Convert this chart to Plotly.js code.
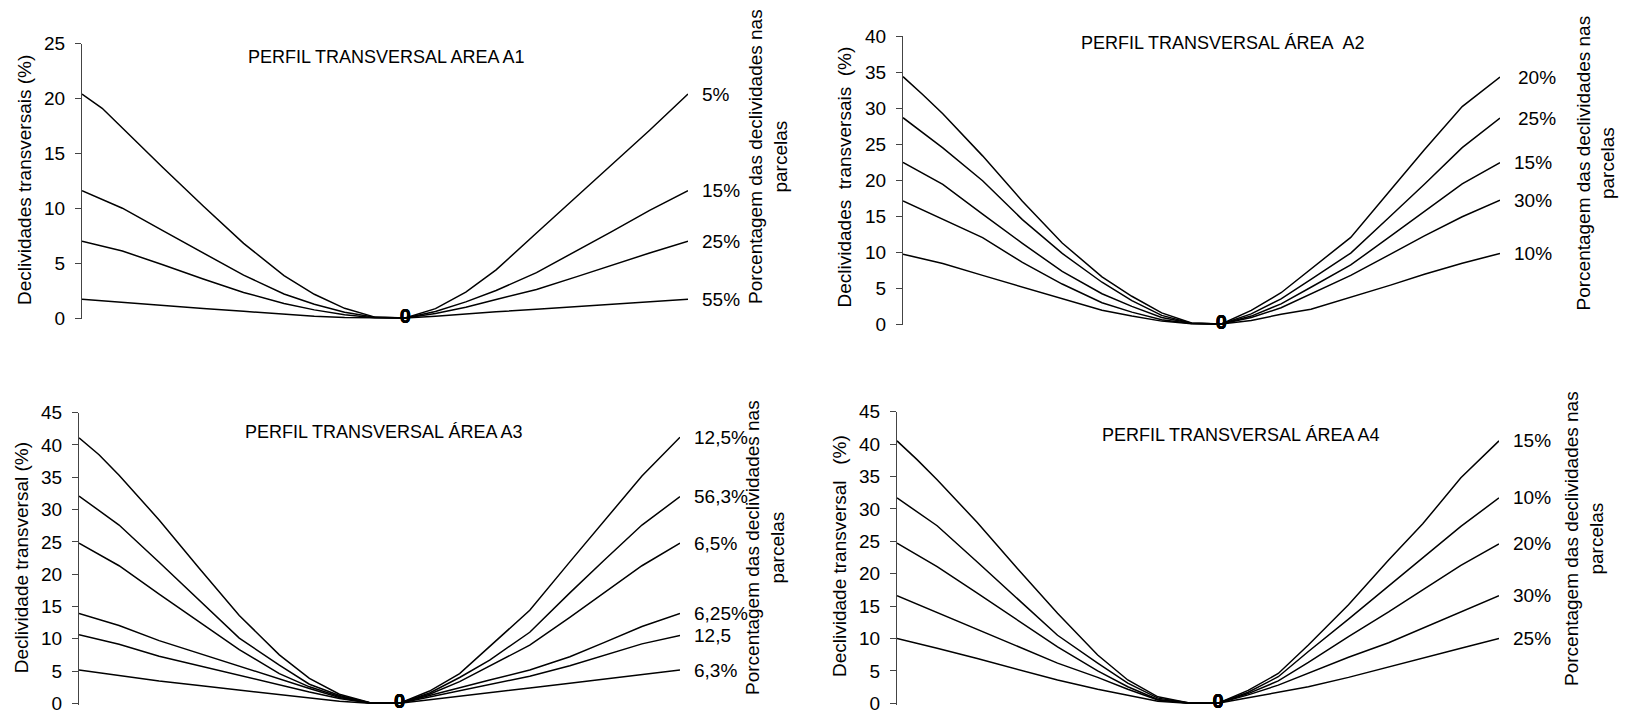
<!DOCTYPE html>
<html>
<head>
<meta charset="utf-8">
<script src="https://cdn.plot.ly/plotly-3.0.1.min.js"></script>
<style>html,body{margin:0;padding:0;background:#fff;}#chart{width:1630px;height:715px;}</style>
</head>
<body>
<div id="chart"></div>
<script>
// ---------- DATA ----------
// shared position along the transversal profile (centre of the profile = 16)
const posicao = [0, 1, 2, 4, 6, 8, 10, 11.5, 13, 14.5, 16, 17.5, 19, 20.5, 22.5, 24.5, 26.2, 28.1, 30];

// ÁREA A1
const a1Labels = ['5%', '15%', '25%', '55%'];
const a1_5  = [20.4, 19.1, 17.3, 13.7, 10.2, 6.8, 3.86, 2.16, 0.88, 0.08, 0, 0.85, 2.36, 4.38, 7.74, 11.1, 13.95, 17.1, 20.4];
const a1_15 = [11.6, 10.8, 10.0, 7.95, 5.9, 3.9, 2.19, 1.25, 0.52, 0.07, 0, 0.6, 1.47, 2.5, 4.13, 6.1, 7.85, 9.8, 11.6];
const a1_25 = [7.0, 6.55, 6.1, 4.85, 3.55, 2.33, 1.32, 0.74, 0.3, 0.03, 0, 0.42, 0.98, 1.68, 2.6, 3.77, 4.8, 5.92, 7.0];
const a1_55 = [1.7, 1.55, 1.42, 1.12, 0.86, 0.61, 0.33, 0.17, 0.05, 0.01, 0, 0.17, 0.38, 0.56, 0.8, 1.04, 1.25, 1.48, 1.7];

// ÁREA A2
const a2Labels = ['20%', '25%', '15%', '30%', '10%'];
const a2_20 = [34.35, 31.85, 29.2, 23.35, 17.05, 11.25, 6.55, 3.85, 1.55, 0.15, 0, 1.9, 4.34, 7.59, 12.03, 18.6, 24.2, 30.2, 34.3];
const a2_25 = [28.65, 26.6, 24.45, 19.9, 14.5, 9.8, 5.8, 3.25, 1.2, 0.12, 0, 1.4, 3.5, 6.2, 9.85, 15.0, 19.4, 24.5, 28.6];
const a2_15 = [22.45, 20.9, 19.4, 15.25, 11.2, 7.3, 4.2, 2.45, 0.9, 0.09, 0, 1.1, 2.8, 5.1, 8.2, 12.2, 15.6, 19.45, 22.4];
const a2_30 = [17.1, 15.85, 14.6, 12.0, 8.55, 5.55, 2.95, 1.65, 0.6, 0.06, 0, 0.9, 2.25, 4.2, 6.75, 9.7, 12.25, 14.9, 17.2];
const a2_10 = [9.7, 9.05, 8.4, 6.75, 5.1, 3.45, 1.9, 1.1, 0.4, 0.03, 0, 0.5, 1.35, 2.05, 3.7, 5.4, 6.9, 8.45, 9.8];

// ÁREA A3
const a3Labels = ['12,5%', '56,3%', '6,5%', '6,25%', '12,5', '6,3%'];
const a3_125a = [41.1, 38.5, 35.3, 28.4, 20.9, 13.6, 7.5, 3.85, 1.4, 0.12, 0, 1.9, 4.6, 8.8, 14.4, 21.9, 28.1, 35.2, 41.2];
const a3_563  = [32.1, 29.9, 27.6, 21.85, 16.0, 10.1, 5.9, 2.95, 1.2, 0.1, 0, 1.6, 4.0, 6.7, 11.0, 17.1, 22.1, 27.6, 32.0];
const a3_65   = [24.8, 23.1, 21.3, 16.9, 12.6, 8.3, 4.6, 2.55, 1.05, 0.08, 0, 1.4, 3.35, 5.8, 9.0, 13.3, 17.1, 21.3, 24.8];
const a3_625  = [13.9, 13.0, 12.05, 9.7, 7.7, 5.7, 3.8, 2.3, 0.9, 0.06, 0, 1.2, 2.5, 3.6, 5.15, 7.2, 9.4, 11.9, 13.9];
const a3_125b = [10.6, 9.9, 9.15, 7.3, 5.8, 4.3, 2.85, 1.75, 0.75, 0.05, 0, 0.95, 1.9, 2.9, 4.2, 5.8, 7.4, 9.2, 10.5];
const a3_63   = [5.15, 4.7, 4.3, 3.45, 2.75, 2.05, 1.3, 0.82, 0.3, 0.02, 0, 0.56, 1.08, 1.65, 2.37, 3.1, 3.75, 4.5, 5.15];

// ÁREA A4
const a4Labels = ['15%', '10%', '20%', '30%', '25%'];
const a4_15 = [40.5, 37.6, 34.5, 27.9, 20.8, 13.9, 7.45, 3.6, 1.0, 0.1, 0, 2.0, 4.6, 9.0, 15.2, 22.1, 27.7, 34.8, 40.5];
const a4_10 = [31.7, 29.6, 27.4, 21.8, 16.2, 10.5, 6.2, 3.1, 0.8, 0.07, 0, 1.7, 4.1, 8.0, 13.0, 18.1, 22.4, 27.3, 31.7];
const a4_20 = [24.7, 22.9, 21.1, 17.0, 12.9, 8.7, 5.0, 2.56, 0.6, 0.05, 0, 1.5, 3.45, 6.3, 10.3, 14.1, 17.5, 21.3, 24.6];
const a4_30 = [16.6, 15.3, 14.0, 11.4, 8.7, 6.2, 4.0, 2.16, 0.5, 0.04, 0, 1.3, 2.8, 4.6, 7.1, 9.35, 11.6, 14.1, 16.6];
const a4_25 = [10.0, 9.3, 8.5, 6.9, 5.2, 3.6, 2.16, 1.23, 0.3, 0.02, 0, 0.85, 1.7, 2.56, 4.0, 5.65, 7.0, 8.5, 10.0];

const titles = ['PERFIL TRANSVERSAL AREA A1', 'PERFIL TRANSVERSAL ÁREA\u00a0 A2', 'PERFIL TRANSVERSAL ÁREA A3', 'PERFIL TRANSVERSAL ÁREA A4'];
const yTitles = ['Declividades transversais (%)', 'Declividades\u00a0 transversais\u00a0 (%)', 'Declividade transversal (%)', 'Declividade transversal\u00a0\u00a0 (%)'];
const rightTitle = 'Porcentagem das declividades nas<br>parcelas';
const centreLabel = '0';

// ---------- LAYOUT / STYLE ----------
const W = 1630, H = 715;
const FONT = 'Liberation Sans, Arial, sans-serif';
const px = v => v / W, py = v => 1 - v / H;

const panels = [
  { series: [a1_5, a1_15, a1_25, a1_55], labels: a1Labels, ymax: 25, xPx: [82, 688], topPx: 43.5, zeroPx: 318,
    title: [386, 57], ytitle: [24, 180], rtitle: [768, 157], lshift: [12, 12, 12, 12] },
  { series: [a2_20, a2_25, a2_15, a2_30, a2_10], labels: a2Labels, ymax: 40, xPx: [903, 1500], topPx: 36, zeroPx: 324,
    title: [1222, 43.3], ytitle: [844, 177.5], rtitle: [1595.5, 163], lshift: [16, 16, 12, 12, 12] },
  { series: [a3_125a, a3_563, a3_65, a3_625, a3_125b, a3_63], labels: a3Labels, ymax: 45, xPx: [79, 680], topPx: 412.7, zeroPx: 703.3,
    title: [383, 431.7], ytitle: [21.7, 557.5], rtitle: [765, 548], lshift: [12, 12, 12, 12, 12, 12] },
  { series: [a4_15, a4_10, a4_20, a4_30, a4_25], labels: a4Labels, ymax: 45, xPx: [897, 1499], topPx: 411.7, zeroPx: 703.3,
    title: [1240.5, 435], ytitle: [839, 556], rtitle: [1584, 539], lshift: [11.5, 11.5, 11.5, 11.5, 11.5] }
];

const traces = [];
const layout = {
  width: W, height: H, margin: { l: 0, r: 0, t: 0, b: 0 },
  paper_bgcolor: '#fff', plot_bgcolor: 'rgba(0,0,0,0)', showlegend: false,
  font: { family: FONT, size: 19, color: '#000' },
  annotations: []
};

const centreIdx = posicao.indexOf(16);

panels.forEach((p, i) => {
  const k = i === 0 ? '' : String(i + 1);
  const ppu = (p.zeroPx - p.topPx) / p.ymax;
  const r0 = -1.2 / ppu;
  const bottomPx = p.zeroPx + 1.2;
  layout['xaxis' + k] = {
    domain: [px(p.xPx[0]), px(p.xPx[1])], range: [0, 30], visible: false,
    anchor: 'y' + k, fixedrange: true
  };
  layout['yaxis' + k] = {
    domain: [py(bottomPx), py(p.topPx)], range: [r0, p.ymax], anchor: 'x' + k,
    tickmode: 'linear', tick0: 0, dtick: 5, ticks: 'outside', ticklen: 6, tickwidth: 1, tickcolor: '#444',
    showline: true, linecolor: '#444', linewidth: 1, showgrid: false, zeroline: false,
    tickfont: { family: FONT, size: 19, color: '#000' }, ticklabelstandoff: 6, fixedrange: true
  };
  p.series.forEach((s, j) => {
    const txt = posicao.map((_, n) => n === centreIdx ? centreLabel : '');
    traces.push({
      x: posicao, y: s, xaxis: 'x' + k, yaxis: 'y' + k, type: 'scatter', mode: 'lines+text',
      line: { color: '#000', width: 1.5 }, text: txt, textposition: 'middle center',
      textfont: { family: FONT, size: 20, color: '#000', weight: 'bold' }, cliponaxis: false, hoverinfo: 'skip'
    });
    layout.annotations.push({
      xref: 'x' + k, yref: 'y' + k, x: 30, y: s[s.length - 1], xanchor: 'left', yanchor: 'middle',
      xshift: p.lshift[j], text: p.labels[j], showarrow: false, font: { family: FONT, size: 19, color: '#000' }
    });
  });
  layout.annotations.push({
    xref: 'paper', yref: 'paper', x: px(p.title[0]), y: py(p.title[1]), xanchor: 'center', yanchor: 'middle',
    text: titles[i], showarrow: false, font: { family: FONT, size: 18, color: '#000' }
  });
  layout.annotations.push({
    xref: 'paper', yref: 'paper', x: px(p.ytitle[0]), y: py(p.ytitle[1]), xanchor: 'center', yanchor: 'middle',
    text: yTitles[i], textangle: -90, showarrow: false, font: { family: FONT, size: 19, color: '#000' }
  });
  layout.annotations.push({
    xref: 'paper', yref: 'paper', x: px(p.rtitle[0]), y: py(p.rtitle[1]), xanchor: 'center', yanchor: 'middle',
    text: rightTitle, textangle: -90, showarrow: false, font: { family: FONT, size: 19, color: '#000' }
  });
});

Plotly.newPlot('chart', traces, layout, { staticPlot: true, displayModeBar: false });
</script>
</body>
</html>
